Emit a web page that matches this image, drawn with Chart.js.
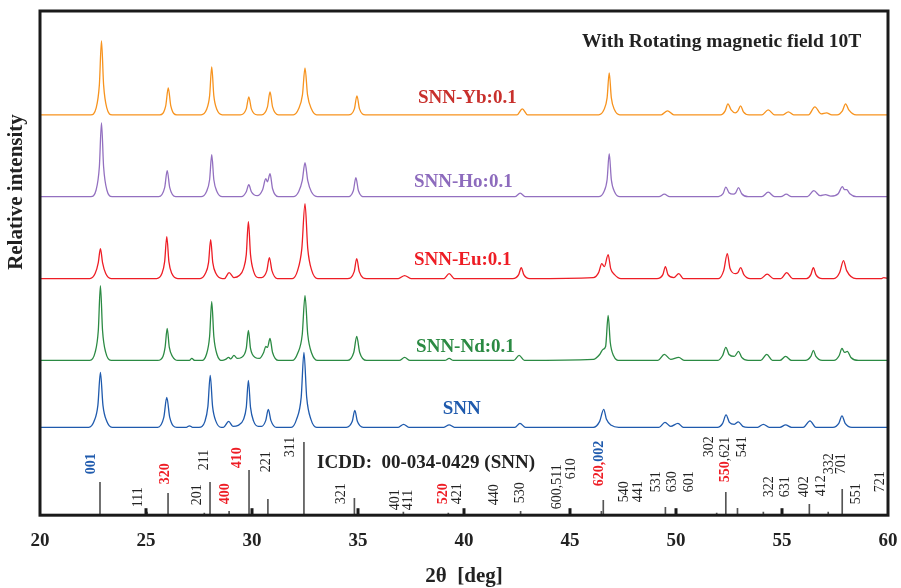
<!DOCTYPE html>
<html>
<head>
<meta charset="utf-8">
<script src="https://cdn.jsdelivr.net/npm/chart.js@4.4.0/dist/chart.umd.min.js"></script>
<style>
    html, body { margin: 0; padding: 0; background: #fff; }
    #wrap { width: 901px; height: 588px; }
</style>
</head>
<body>
<div id="wrap"><canvas id="xrd"></canvas></div>
<script>
// 2θ [deg] vs intensity above each trace's own baseline (a.u.)
const ybData = [
    [20,0],
    [22.4,0],[22.65,7],[22.8,30],[22.9,74],[23.0,30],[23.15,7],[23.4,0],
    [25.65,0],[25.93,9],[26.05,27],[26.17,9],[26.45,0],
    [27.6,0],[27.85,5],[28.0,19],[28.1,48],[28.2,19],[28.35,5],[28.6,0],
    [29.45,0],[29.73,6],[29.85,18],[29.97,6],[30.25,0],
    [30.45,0],[30.73,8],[30.85,23],[30.97,8],[31.25,0],
    [31.95,0],[32.2,6],[32.38,20],[32.5,47],[32.62,20],[32.8,6],[33.05,0],
    [34.55,0],[34.83,6],[34.95,19],[35.07,6],[35.35,0],
    [42.5,0],[42.75,6],[43.0,0],
    [46.35,0],[46.6,5],[46.75,17],[46.85,42],[46.95,17],[47.1,5],[47.35,0],
    [49.3,0],[49.6,4],[49.9,0],
    [52.1,0],[52.32,4],[52.45,11],[52.6,5],[52.8,2],[52.92,4],[53.05,9],[53.18,3],[53.45,0],
    [54.05,0],[54.35,5],[54.65,0],
    [55.05,0],[55.3,3],[55.55,0],
    [56.25,0],[56.55,8],[56.85,1],[57.1,2],[57.35,0],
    [57.6,0],[57.85,4],[58.0,11],[58.15,5],[58.5,0],
    [60,0]
];
const hoData = [
    [20,0],
    [22.4,0],[22.65,7],[22.8,30],[22.9,74],[23.0,30],[23.15,7],[23.4,0],
    [25.6,0],[25.88,9],[26.0,26],[26.12,9],[26.4,0],
    [27.6,0],[27.85,5],[28.0,17],[28.1,42],[28.2,17],[28.35,5],[28.6,0],
    [29.5,0],[29.73,5],[29.85,12],[29.97,5],[30.25,1],
    [30.5,7],[30.65,18],[30.73,15],[30.85,23],[30.97,8],[31.25,0],
    [31.95,0],[32.2,5],[32.37,16],[32.5,34],[32.63,16],[32.8,5],[33.1,0],
    [34.5,0],[34.78,6],[34.9,19],[35.02,6],[35.3,0],
    [42.4,0],[42.65,3.5],[42.9,0],
    [46.35,0],[46.6,5],[46.75,17],[46.85,43],[46.95,17],[47.1,5],[47.35,0],
    [49.2,0],[49.45,2.5],[49.7,0],
    [52.0,0],[52.22,3],[52.35,9.5],[52.5,4],[52.7,2.5],[52.82,4],[52.95,9],[53.1,3],[53.4,0],
    [54.05,0],[54.35,4.5],[54.65,0],
    [54.95,0],[55.2,2.5],[55.45,0],
    [56.2,0],[56.5,6],[56.8,1],[57.05,2],[57.3,0.5],
    [57.65,3],[57.85,10],[57.95,7],[58.05,7],[58.2,3],[58.5,0],
    [60,0]
];
const euData = [
    [20,0],
    [22.35,0],[22.6,5],[22.75,16],[22.85,30],[22.95,16],[23.1,5],[23.35,0],
    [25.5,0],[25.75,5],[25.88,17],[25.98,42],[26.08,17],[26.22,5],[26.5,0],
    [27.55,0],[27.8,5],[27.95,16],[28.05,39],[28.15,16],[28.3,5],[28.6,0],
    [28.7,0],[28.92,6],[29.15,1],
    [29.4,3],[29.6,10],[29.73,24],[29.83,57],[29.93,24],[30.08,7],[30.3,1],
    [30.45,1],[30.7,8],[30.82,21],[30.94,8],[31.2,0],
    [31.9,0],[32.15,8],[32.35,30],[32.5,75],[32.63,30],[32.82,8],[33.1,0],
    [34.5,0],[34.82,7],[34.94,20],[35.06,7],[35.4,0],
    [36.9,0],[37.2,3],[37.5,0],
    [39.05,0],[39.3,5],[39.55,0],
    [42.3,0],[42.58,4],[42.7,11],[42.82,4],[43.1,0],
    [46.1,1],[46.35,6],[46.5,15],[46.62,12],[46.8,24],[46.92,10],[47.1,4],[47.4,0],
    [49.1,0],[49.38,4],[49.5,12],[49.62,4],[49.9,1],[50.13,5],[50.35,0],
    [52.0,0],[52.25,8],[52.42,25],[52.55,10],[52.8,5],[52.92,6],[53.05,11],[53.2,4],[53.5,0],
    [54.0,0],[54.3,4.5],[54.6,0],
    [54.95,0],[55.22,6],[55.5,0],
    [56.15,0],[56.36,4],[56.48,11],[56.6,4],[56.9,0],
    [57.45,0],[57.72,6],[57.9,18],[58.05,8],[58.5,0],
    [59.7,0],[59.8,1],[60,0]
];
const ndData = [
    [20,0],
    [22.35,0],[22.6,8],[22.75,30],[22.85,75],[22.95,30],[23.1,8],[23.35,0],
    [25.55,0],[25.8,4],[25.9,13],[26.0,32],[26.1,13],[26.25,4],[26.5,0],
    [27.05,0],[27.16,2],[27.3,0],
    [27.6,0],[27.85,6],[28.0,24],[28.1,59],[28.2,24],[28.35,6],[28.6,0],
    [28.75,1],[28.9,3],[29.0,1.5],[29.15,5],[29.3,2],
    [29.5,3],[29.73,12],[29.83,30],[29.93,12],[30.15,3],[30.35,2],
    [30.55,8],[30.65,14],[30.73,13],[30.85,22],[30.97,8],[31.25,0],
    [31.9,0],[32.15,7],[32.37,26],[32.5,65],[32.63,26],[32.82,7],[33.1,0],
    [34.5,0],[34.8,8],[34.94,24],[35.08,8],[35.4,0],
    [36.95,0],[37.2,3],[37.45,0],
    [39.1,0],[39.3,2],[39.5,0],
    [42.35,0],[42.6,5],[42.85,0],
    [46.1,1],[46.4,6],[46.55,11],[46.68,14],[46.8,45],[46.9,18],[47.05,5],[47.35,0],
    [49.15,0],[49.45,6],[49.75,1],[50.13,3],[50.4,0],
    [51.95,0],[52.2,5],[52.35,13],[52.5,6],[52.75,4],[52.95,9],[53.1,3],[53.4,0],
    [54.0,0],[54.28,6],[54.55,0],
    [54.9,0],[55.17,4],[55.45,0],
    [56.1,0],[56.36,4],[56.48,10],[56.6,4],[56.9,0],
    [57.45,0],[57.7,5],[57.83,12],[57.95,8],[58.08,9],[58.25,3],[58.6,0],
    [60,0]
];
const snnData = [
    [20,0],
    [22.3,0],[22.55,6],[22.73,22],[22.85,55],[22.97,22],[23.15,6],[23.4,0],
    [25.55,0],[25.84,10],[25.98,30],[26.12,10],[26.45,0],
    [26.9,0],[27.05,1.5],[27.2,0],
    [27.5,0],[27.78,6],[27.92,21],[28.03,52],[28.14,21],[28.3,6],[28.55,0],
    [28.65,0],[28.9,6],[29.1,1],
    [29.35,2],[29.6,8],[29.73,20],[29.83,47],[29.93,20],[30.08,6],[30.3,1],
    [30.45,1],[30.65,7],[30.77,18],[30.89,7],[31.15,0],
    [31.85,0],[32.1,8],[32.32,30],[32.45,75],[32.58,30],[32.78,8],[33.05,0],
    [34.45,0],[34.73,6],[34.85,17],[34.97,6],[35.25,0],
    [36.9,0],[37.15,3],[37.4,0],
    [39.05,0],[39.3,2.5],[39.55,0],
    [42.4,0],[42.64,4],[42.9,0],
    [46.1,0],[46.4,6],[46.59,18],[46.72,8],[46.95,2],[47.3,0],
    [49.2,0],[49.48,5],[49.75,1],[50.09,4],[50.35,0],
    [51.95,0],[52.2,4],[52.36,12.5],[52.52,5],[52.75,3],[52.94,5.5],[53.15,1],[53.4,0],
    [53.85,0],[54.12,3],[54.4,0],
    [54.9,0],[55.17,2.5],[55.45,0],
    [56.0,0],[56.32,6.5],[56.6,0],
    [57.4,0],[57.68,4],[57.83,11.5],[57.98,4],[58.3,0],
    [60,0]
];

const seriesNames = ['SNN-Yb:0.1', 'SNN-Ho:0.1', 'SNN-Eu:0.1', 'SNN-Nd:0.1', 'SNN'];
const seriesOffsets = [401, 319, 237, 155, 88];   // vertical stacking
const seriesColors = ['#f7931e', '#9370c0', '#ee1d25', '#2b8a43', '#1f5aad'];
const nameColors = ['#c8302c', '#8d6bbd', '#ee1d25', '#2b8a43', '#1f5aad'];

// ICDD 00-034-0429 stick pattern
const stickPos    = [22.83, 25.05, 26.04, 27.75, 28.02, 28.92, 29.86, 30.75, 32.45, 34.83, 37.14, 39.26, 42.67, 46.48, 46.57, 49.5, 51.92, 52.35, 52.9, 54.12, 56.29, 57.18, 57.84];
const stickHeight = [33, 3, 22, 2, 33, 4, 45, 16, 73, 17, 3, 2, 4, 4, 15, 8, 2, 23, 7, 3, 11, 3, 26];

const xTicks = [20, 25, 30, 35, 40, 45, 50, 55, 60];

const RED = '#ee1d25', BLUE = '#1f5aad', INK = '#222';

// hkl labels: [parts [text, colour, bold]], 2θ anchor, bottom of text (a.u.)
const hklLabels = [
    [[['001', BLUE, 1]], 22.44, 41],
    [[['111', INK, 0]], 24.62, 8],
    [[['320', RED, 1]], 25.93, 31],
    [[['201', INK, 0]], 27.42, 10],
    [[['211', INK, 0]], 27.76, 45],
    [[['400', RED, 1]], 28.73, 11],
    [[['410', RED, 1]], 29.30, 47],
    [[['221', INK, 0]], 30.69, 43],
    [[['311', INK, 0]], 31.82, 58],
    [[['321', INK, 0]], 34.23, 11],
    [[['401', INK, 0]], 36.76, 5],
    [[['411', INK, 0]], 37.37, 5],
    [[['520', RED, 1]], 39.05, 11],
    [[['421', INK, 0]], 39.69, 11],
    [[['440', INK, 0]], 41.45, 10],
    [[['530', INK, 0]], 42.68, 12],
    [[['600,511', INK, 0]], 44.41, 6],
    [[['610', INK, 0]], 45.04, 36],
    [[['620,', RED, 1], ['002', BLUE, 1]], 46.37, 29],
    [[['540', INK, 0]], 47.56, 13],
    [[['441', INK, 0]], 48.21, 13],
    [[['531', INK, 0]], 49.09, 23],
    [[['630', INK, 0]], 49.83, 23],
    [[['601', INK, 0]], 50.64, 23],
    [[['302', INK, 0]], 51.56, 58],
    [[['550', RED, 1], [',621', INK, 0]], 52.35, 33],
    [[['541', INK, 0]], 53.14, 58],
    [[['322', INK, 0]], 54.39, 18],
    [[['631', INK, 0]], 55.18, 18],
    [[['402', INK, 0]], 56.04, 18],
    [[['412', INK, 0]], 56.85, 19],
    [[['332', INK, 0]], 57.22, 41],
    [[['701', INK, 0]], 57.82, 41],
    [[['551', INK, 0]], 58.52, 11],
    [[['721', INK, 0]], 59.62, 23]
];

const SERIF = '"Liberation Serif", "Times New Roman", serif';

const traces = [ybData, hoData, euData, ndData, snnData];

const decorations = {
    id: 'decorations',
    afterDatasetsDraw(chart) {
        const { ctx, chartArea: a, scales: { x, y } } = chart;
        ctx.save();

        // frame + inward ticks
        ctx.strokeStyle = '#1a1a1a';
        ctx.lineWidth = 3;
        ctx.strokeRect(a.left, a.top, a.right - a.left, a.bottom - a.top);
        xTicks.slice(1, -1).forEach(v => {
            const px = Math.round(x.getPixelForValue(v));
            ctx.beginPath();
            ctx.moveTo(px, a.bottom);
            ctx.lineTo(px, a.bottom - 7);
            ctx.stroke();
        });

        // hkl labels, rotated
        ctx.textBaseline = 'middle';
        ctx.textAlign = 'left';
        hklLabels.forEach(([parts, xv, yv]) => {
            ctx.save();
            ctx.translate(x.getPixelForValue(xv), y.getPixelForValue(yv));
            ctx.rotate(-Math.PI / 2);
            let off = 0;
            parts.forEach(([t, c, b]) => {
                ctx.font = (b ? 'bold ' : '') + '14px ' + SERIF;
                ctx.fillStyle = c;
                ctx.fillText(t, off, 0);
                off += ctx.measureText(t).width;
            });
            ctx.restore();
        });

        // series names
        ctx.font = 'bold 19px ' + SERIF;
        const namePos = [[37.83, 418], [37.64, 334], [37.64, 256], [37.74, 168.5], [39.0, 106]];
        seriesNames.forEach((n, i) => {
            ctx.fillStyle = nameColors[i];
            ctx.fillText(n, x.getPixelForValue(namePos[i][0]), y.getPixelForValue(namePos[i][1]));
        });

        ctx.fillStyle = INK;
        ctx.font = 'bold 19.5px ' + SERIF;
        ctx.fillText('With Rotating magnetic field 10T', x.getPixelForValue(45.57), y.getPixelForValue(474));
        ctx.font = 'bold 19px ' + SERIF;
        ctx.fillText('ICDD:  00-034-0429 (SNN)', x.getPixelForValue(33.07), y.getPixelForValue(52));

        // y axis title
        ctx.font = 'bold 21px ' + SERIF;
        ctx.translate(17, 192);
        ctx.rotate(-Math.PI / 2);
        ctx.textAlign = 'center';
        ctx.fillText('Relative intensity', 0, 0);
        ctx.restore();
    }
};

const datasets = [{
    type: 'bar',
    data: stickPos.map((v, i) => ({ x: v, y: stickHeight[i] })),
    backgroundColor: '#555',
    barThickness: 1,
    grouped: false,
    order: 10
}];
traces.forEach((t, i) => {
    datasets.push({
        type: 'line',
        data: t.map(([xv, yv]) => ({ x: xv, y: yv + seriesOffsets[i] })),
        borderColor: seriesColors[i],
        borderWidth: 1.3,
        pointRadius: 0,
        cubicInterpolationMode: 'monotone',
        order: i
    });
});

new Chart(document.getElementById('xrd'), {
    type: 'line',
    data: { datasets },
    options: {
        responsive: true,
        maintainAspectRatio: false,
        animation: false,
        devicePixelRatio: 1,
        layout: { padding: { left: 40, right: 13, top: 11, bottom: 0 } },
        plugins: { legend: { display: false }, tooltip: { enabled: false } },
        scales: {
            x: {
                type: 'linear',
                min: 20, max: 60,
                offset: false,
                afterBuildTicks: s => { s.ticks = xTicks.map(v => ({ value: v })); },
                afterFit: s => { s.paddingLeft = 0; s.paddingRight = 0; },
                grid: { display: false, drawTicks: false },
                border: { display: false },
                ticks: { color: INK, padding: 14, font: { family: SERIF, size: 19, weight: 'bold' } },
                title: {
                    display: true,
                    text: '2θ  [deg]',
                    color: INK,
                    padding: { top: 0, bottom: 1 },
                    font: { family: SERIF, size: 21, weight: 'bold', lineHeight: 1 }
                }
            },
            y: { display: false, min: 0, max: 505 }
        }
    },
    plugins: [decorations]
});
</script>
</body>
</html>
